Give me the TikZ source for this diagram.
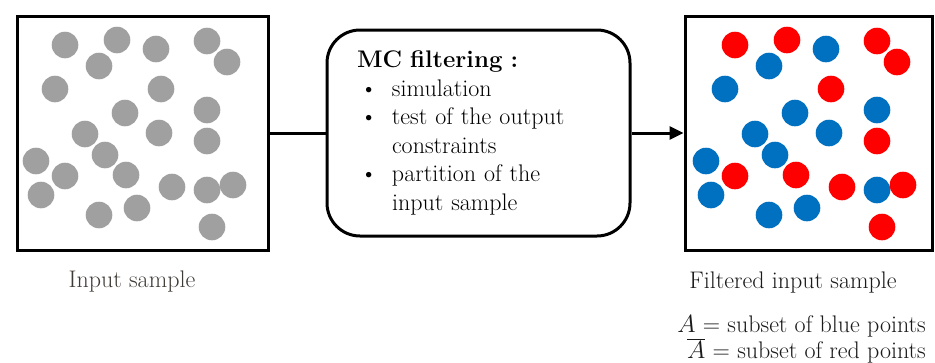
\documentclass[tikz,border=0pt]{standalone}
\usetikzlibrary{arrows.meta}
\definecolor{gpt}{HTML}{A0A0A0}
\definecolor{bpt}{HTML}{0070C0}
\definecolor{rpt}{HTML}{FF0000}
\definecolor{lbl}{HTML}{3F3A36}
\definecolor{dtext}{HTML}{1A1A1A}
\newcommand{\bulletitem}{\makebox[35pt][l]{\hspace{3pt}\textbullet}}
\newcommand{\contitem}{\hspace*{35pt}}
\begin{document}
\begin{tikzpicture}[x=1pt,y=-1pt,
  samplebox/.style={draw=black,line width=3pt,minimum width=251pt,minimum height=234pt,inner sep=0pt},
  mcbox/.style={draw=black,line width=3pt,rounded corners=33pt,minimum width=303pt,minimum height=206pt,
    inner xsep=30pt,inner ysep=0pt,text width=243pt,align=left,font=\fontsize{24}{28.6}\selectfont},
  link/.style={line width=3pt},
  lbltext/.style={font=\fontsize{24}{26}\selectfont,inner sep=0pt}]
\useasboundingbox (0,0) rectangle (935,362);

% boxes
\node[samplebox] (inbox) at (142.5,133) {};
\node[samplebox,minimum width=247pt] (outbox) at (808.5,133) {};
\node[mcbox] (mc) at (478.5,133) {\textbf{MC filtering :}\\
\bulletitem simulation\\
\bulletitem test of the output\\
\contitem constraints\\
\bulletitem partition of the\\
\contitem input sample};

% connectors
\draw[link] (inbox.east) -- (mc.west);
\draw[link,-{Triangle[length=14pt,width=13pt]}] (mc.east) -- (outbox.west);

% input points (grey)
\foreach \px/\py in {65/45,117/40,156/49,207/41,227/62,99/66,55/89,161/89,125/113,207/110,
  85/134,159/133,207/141,105/155,36/161,65/176,126/175,172/187,207/190,233/185,41/195,99/215,137/208,212/227}
  \fill[gpt] (\px,\py) circle[radius=13.3pt];

% filtered points
\foreach \px/\py/\c in {65/45/rpt,117/40/rpt,156/49/bpt,207/41/rpt,227/62/rpt,99/66/bpt,55/89/bpt,
  161/89/rpt,125/113/bpt,207/110/bpt,85/134/bpt,159/133/bpt,207/141/rpt,105/155/bpt,36/161/bpt,
  65/176/rpt,126/175/rpt,172/187/rpt,207/190/bpt,233/185/rpt,41/195/bpt,99/215/bpt,137/208/bpt,212/227/rpt}
  \fill[\c] (\px+670,\py) circle[radius=13.3pt];

% labels
\node[lbltext,text=lbl,anchor=base] (inlabel) at (132,287) {Input sample};
\node[lbltext,text=dtext,anchor=base] (outlabel) at (793,288) {Filtered input sample};
\node[lbltext,text=dtext,anchor=base east] (setA) at (926,332) {$A$ = subset of blue points};
\node[lbltext,text=dtext,anchor=base east] (setAbar) at (926,358) {$\overline{A}$ = subset of red points};
\end{tikzpicture}
\end{document}
